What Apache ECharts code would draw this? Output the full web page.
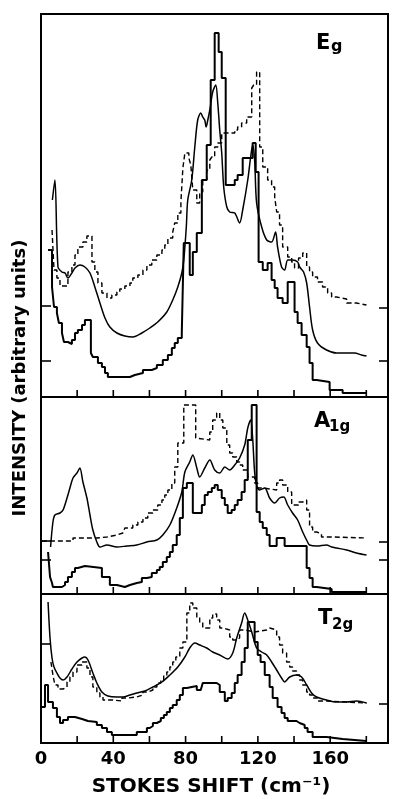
<!DOCTYPE html>
<html><head><meta charset="utf-8">
<script src="https://cdn.jsdelivr.net/npm/echarts@6/dist/echarts.min.js"></script>
<style>html,body{margin:0;padding:0;background:#fff}#c{width:393px;height:799px}</style>
</head><body><div id="c"></div>
<script>
// ---- data (x: Stokes shift cm^-1, y: intensity, arbitrary units) ----
const xTickLabels = [0, 40, 80, 120, 160];
const xTicks = [20, 40, 60, 80, 100, 120, 140, 160, 180];
const X_MAX = 192;

const egHist = [[3.9,147],[6.1,110],[7.2,90],[8.8,84],[9.9,74],[11.6,64],[12.7,55],[14.9,53],[17.1,57],[18.8,64],[20.4,67],[22.7,72],[24.3,77],[27.6,44],[28.7,40],[31.5,34],[33.7,30],[35.4,24],[37.0,20],[49.2,22],[51.9,24],[56.4,27],[61.3,29],[64.1,32],[67.4,37],[70.2,42],[72.4,49],[74.0,54],[75.7,59],[77.9,64],[79.0,154],[82.3,122],[84.0,145],[86.2,164],[89.0,217],[91.7,252],[93.9,317],[96.1,364],[98.3,345],[100.0,319],[102.2,212],[107.2,217],[108.8,222],[111.6,239],[117.1,254],[118.8,225],[120.4,135],[122.7,127],[125.4,134],[127.6,117],[129.3,109],[130.9,99],[133.7,94],[136.5,115],[140.3,85],[142.0,74],[144.2,62],[147.0,50],[148.6,34],[150.3,17],[152.5,15],[159.7,7],[166.9,4],[180.1,4]];
const egDashed = [[6.1,167],[7.2,127],[8.8,119],[10.5,111],[14.9,125],[17.1,132],[18.8,142],[20.4,150],[23.2,155],[25.4,161],[28.2,135],[29.8,125],[31.5,114],[33.7,104],[36.5,99],[39.2,102],[42.0,105],[43.6,108],[46.4,111],[49.2,114],[50.8,119],[53.6,122],[56.4,127],[58.6,132],[61.3,137],[64.1,142],[66.9,147],[68.5,152],[70.2,159],[72.9,165],[74.0,174],[75.7,184],[77.4,195],[78.5,229],[79.6,244],[81.8,239],[82.9,232],[84.0,207],[86.2,194],[87.8,205],[89.5,217],[91.7,227],[93.4,237],[94.5,240],[96.1,250],[97.8,254],[100.0,264],[107.2,267],[108.8,270],[111.0,274],[113.8,280],[116.6,309],[117.7,312],[119.3,325],[121.0,250],[122.7,230],[125.4,217],[127.6,210],[129.3,200],[130.4,185],[132.0,172],[133.7,150],[136.5,140],[138.7,135],[140.3,129],[142.5,139],[144.8,144],[147.0,130],[148.6,125],[150.3,120],[153.0,115],[155.8,110],[158.6,104],[160.8,100],[163.5,98],[169.1,94],[174.6,92],[180.1,92]];
const egSmooth = [[6.3,197],[7.7,217],[9.4,130],[11.6,125],[13.3,124],[14.9,119],[17.1,124],[18.8,129],[21.5,132],[24.3,130],[27.1,124],[29.8,110],[32.6,94],[35.4,79],[38.1,70],[42.0,64],[46.4,61],[50.8,60],[55.8,64],[60.2,69],[64.6,75],[69.6,85],[72.9,97],[75.7,110],[77.9,124],[79.0,137],[80.4,170],[81.2,197],[83.4,217],[85.1,250],[86.7,277],[88.4,284],[89.5,280],[90.6,277],[91.4,270],[92.3,277],[93.4,287],[95.0,305],[96.7,312],[97.8,294],[98.9,267],[100.0,244],[101.1,210],[102.8,190],[104.4,185],[107.2,184],[109.9,174],[111.6,187],[114.4,217],[116.0,240],[117.1,252],[118.2,237],[119.3,194],[122.1,170],[124.9,157],[127.6,155],[129.8,165],[130.9,150],[133.1,130],[134.8,127],[136.5,137],[139.2,137],[142.0,135],[143.1,130],[145.3,125],[147.0,114],[148.6,90],[150.3,67],[153.0,54],[158.0,47],[163.5,44],[169.1,44],[173.5,44],[177.3,42],[180.1,41]];

const a1gHist = [[3.9,42],[5.0,17],[6.1,11],[6.6,7],[11.6,9],[13.3,12],[14.9,17],[17.1,22],[18.8,26],[20.4,28],[24.3,26],[33.7,17],[38.1,9],[42.0,7],[46.4,9],[49.2,11],[53.0,12],[55.8,16],[58.6,17],[61.3,21],[64.1,24],[65.7,27],[67.4,32],[69.6,37],[71.3,42],[72.9,49],[75.1,59],[76.8,76],[78.5,106],[80.7,111],[84.0,81],[89.0,89],[90.6,99],[92.3,102],[94.5,106],[96.1,109],[97.8,104],[100.0,96],[101.7,89],[103.3,81],[105.5,84],[107.2,89],[108.8,94],[111.0,102],[112.7,114],[114.4,154],[116.6,189],[119.3,82],[121.0,72],[122.7,66],[124.9,59],[126.5,48],[130.4,56],[134.8,48],[147.0,26],[148.6,16],[150.3,7],[152.5,5],[160.8,2],[180.1,2]];
const a1gDashed = [[0.5,53],[17.7,56],[30.9,57],[36.5,59],[42.0,61],[45.3,62],[46.4,66],[50.8,69],[53.6,72],[56.4,76],[59.1,81],[61.9,84],[64.6,89],[66.9,94],[68.5,99],[70.2,104],[72.4,111],[74.0,127],[75.7,151],[79.0,189],[85.6,156],[86.7,154],[93.4,162],[95.0,174],[97.2,181],[98.9,174],[100.6,166],[102.8,149],[104.4,141],[106.1,137],[108.3,132],[109.9,129],[111.6,124],[114.4,117],[118.2,111],[119.9,106],[122.7,104],[130.4,111],[132.0,114],[133.7,109],[136.5,102],[138.7,89],[142.5,92],[144.8,94],[147.0,84],[148.6,67],[150.3,62],[152.5,60],[155.2,57],[161.3,56],[180.1,56]];
const a1gSmooth = [[5.3,47],[6.6,72],[7.7,79],[10.5,81],[12.2,84],[14.4,96],[16.0,106],[17.7,116],[19.9,121],[21.5,126],[23.2,112],[25.4,96],[27.1,79],[28.7,64],[30.9,52],[32.6,47],[36.5,49],[42.0,47],[47.5,48],[53.0,49],[58.6,52],[64.1,54],[67.4,59],[71.3,69],[75.1,86],[77.9,102],[79.6,122],[82.3,132],[84.0,139],[86.2,126],[87.8,117],[90.6,126],[93.4,134],[96.1,124],[98.9,121],[101.7,127],[104.4,124],[107.2,129],[109.9,136],[112.7,149],[114.4,166],[116.0,174],[117.1,156],[118.2,122],[119.3,109],[121.0,104],[123.8,106],[126.5,96],[129.3,91],[132.0,96],[134.3,97],[136.5,89],[139.2,81],[142.0,74],[144.8,62],[147.5,52],[148.6,49],[152.5,48],[158.0,49],[160.8,47],[163.5,46],[169.1,44],[174.6,41],[180.1,39]];

const t2gHist = [[0,36],[2.2,58],[3.9,41],[6.6,35],[8.8,26],[10.5,20],[12.2,23],[14.9,26],[18.8,24],[22.7,22],[26.0,21],[30.9,18],[33.7,15],[36.5,11],[39.2,8],[53.0,11],[58.6,15],[60.2,17],[61.9,20],[64.1,22],[66.3,25],[68.0,28],[69.6,31],[71.3,35],[72.9,38],[75.1,43],[76.8,48],[78.5,55],[80.7,57],[86.2,53],[88.4,55],[89.5,60],[97.2,58],[98.9,51],[101.7,42],[103.3,45],[105.5,50],[107.2,60],[108.8,68],[111.0,81],[112.7,95],[114.4,121],[118.2,101],[119.9,88],[121.5,81],[123.8,68],[126.5,56],[128.2,45],[130.9,36],[133.1,30],[134.8,25],[136.5,22],[141.4,20],[143.1,18],[145.9,15],[147.5,11],[150.3,6],[158.0,4],[166.9,2],[180.1,2]];
const t2gDashed = [[5.5,81],[6.6,68],[7.7,58],[9.4,54],[12.2,56],[14.4,61],[16.0,66],[17.7,71],[19.9,78],[22.7,81],[25.4,75],[27.1,66],[28.7,56],[30.9,50],[32.6,46],[34.3,43],[39.8,42],[44.8,45],[48.1,46],[53.0,48],[56.4,51],[59.1,53],[61.9,56],[64.1,60],[66.3,63],[67.9,67],[69.6,71],[71.3,76],[72.9,81],[74.6,86],[76.8,95],[78.5,101],[80.7,130],[82.3,140],[84.0,135],[86.2,126],[87.8,121],[89.5,115],[93.4,125],[95.0,129],[97.2,123],[98.9,115],[100.6,113],[104.4,106],[106.1,103],[108.3,105],[109.9,113],[113.0,111],[118.2,113],[124.9,115],[126.5,113],[130.4,106],[132.0,98],[133.7,90],[135.9,81],[137.6,76],[139.2,72],[141.4,68],[143.1,63],[144.8,58],[147.0,51],[148.6,48],[150.3,45],[153.0,42],[158.0,40],[180.1,40]];
const t2gSmooth = [[3.9,141],[5.0,105],[6.1,85],[7.2,76],[8.8,70],[10.5,65],[12.2,63],[14.4,66],[17.1,74],[19.9,81],[22.7,85],[24.3,86],[26.0,83],[28.7,70],[30.9,60],[33.7,51],[37.0,47],[42.0,46],[45.3,46],[49.2,48],[53.0,50],[57.5,52],[61.9,56],[66.9,61],[71.3,68],[75.7,76],[79.6,86],[82.3,95],[85.1,100],[87.8,98],[91.7,95],[95.0,91],[98.9,88],[103.3,84],[106.1,90],[108.3,105],[111.0,120],[112.7,130],[114.4,123],[116.6,111],[119.3,95],[122.1,91],[124.9,88],[127.6,81],[130.4,73],[133.1,65],[134.8,61],[137.6,66],[141.4,68],[144.2,66],[147.0,58],[149.7,50],[152.5,46],[158.0,43],[163.5,41],[169.1,41],[174.6,42],[180.1,40]];

// baseline tick marks on the left / right frame of each panel
const egTicksLeft = [91, 36], egTicksRight = [89, 36];
const a1gTicksLeft = [53, 34], a1gTicksRight = [52, 34];
const t2gTicksLeft = [99], t2gTicksRight = [39];
const yMax = [383, 197, 149];

// ---- layout ----
const panels = [
  {hist: egHist, dashed: egDashed, smooth: egSmooth, tl: egTicksLeft, tr: egTicksRight, top: 14, height: 383},
  {hist: a1gHist, dashed: a1gDashed, smooth: a1gSmooth, tl: a1gTicksLeft, tr: a1gTicksRight, top: 397, height: 197},
  {hist: t2gHist, dashed: t2gDashed, smooth: t2gSmooth, tl: t2gTicksLeft, tr: t2gTicksRight, top: 594, height: 149}
];
const FONT = '"DejaVu Sans", sans-serif';
const TICK = {0: [0, -7], 1: [10, 0], 2: [-9, 0]}; // inward tick direction for bottom / left / right frame
const grid = [], xAxis = [], yAxis = [], series = [];
panels.forEach((p, i) => {
  grid.push({left: 41, right: 5, top: p.top, height: p.height, show: true,
    borderColor: '#000', borderWidth: 2, backgroundColor: 'transparent'});
  xAxis.push({type: 'value', gridIndex: i, min: 0, max: X_MAX, interval: 20,
    axisLine: {show: false}, splitLine: {show: false}, axisTick: {show: false},
    axisLabel: {show: i === 2, color: '#000', fontSize: 18, fontWeight: 'bold', fontFamily: FONT, margin: 7,
      formatter: v => xTickLabels.indexOf(v) >= 0 ? String(v) : ''}});
  yAxis.push({type: 'value', gridIndex: i, min: 0, max: yMax[i], show: false});
  const base = {type: 'line', xAxisIndex: i, yAxisIndex: i, showSymbol: false,
    symbol: 'none', animation: false, color: '#000', silent: true};
  series.push(Object.assign({}, base, {data: p.hist, step: 'end',
    lineStyle: {color: '#000', width: 2}}));
  series.push(Object.assign({}, base, {data: p.dashed, step: 'end',
    lineStyle: {color: '#000', width: 1.4, type: [5, 3]}}));
  series.push(Object.assign({}, base, {data: p.smooth, smooth: 0.3,
    lineStyle: {color: '#000', width: 1.5}}));
  // frame tick marks, positioned through the panel's own scales
  const tickData = xTicks.map(v => [v, 0, 0])
    .concat(p.tl.map(v => [0, v, 1]))
    .concat(p.tr.map(v => [X_MAX, v, 2]));
  series.push({type: 'custom', xAxisIndex: i, yAxisIndex: i, silent: true, animation: false,
    dimensions: ['x', 'y', 'side'], encode: {x: 0, y: 1}, clip: false, data: tickData,
    renderItem: (params, api) => {
      const pt = api.coord([api.value(0), api.value(1)]);
      const d = TICK[api.value(2)];
      return {type: 'line', shape: {x1: pt[0], y1: pt[1], x2: pt[0] + d[0], y2: pt[1] + d[1]},
        style: {stroke: '#000', lineWidth: 1.6}};
    }});
});

const txt = (text, x, y, size) => ({type: 'text', x: x, y: y,
  style: {text: text, font: 'bold ' + size + 'px ' + FONT, fill: '#000', textAlign: 'left', textVerticalAlign: 'middle'}});

const graphic = [
  txt('E', 316, 44, 21), txt('g', 331, 47, 16),
  txt('A', 314, 422, 21), txt('1g', 329, 427, 15),
  txt('T', 318, 619, 21), txt('2g', 332, 625, 15),
  {type: 'text', x: 20, y: 378, rotation: Math.PI / 2,
    style: {text: 'INTENSITY (arbitrary units)', font: 'bold 18px ' + FONT, fill: '#000',
      textAlign: 'center', textVerticalAlign: 'middle'}},
  {type: 'text', x: 211, y: 787,
    style: {text: 'STOKES SHIFT (cm\u207B\u00B9)', font: 'bold 20px ' + FONT, fill: '#000',
      textAlign: 'center', textVerticalAlign: 'middle'}}
];

const chart = echarts.init(document.getElementById('c'), null, {renderer: 'canvas'});
chart.setOption({animation: false, backgroundColor: '#fff', grid, xAxis, yAxis, series, graphic});
</script></body></html>
